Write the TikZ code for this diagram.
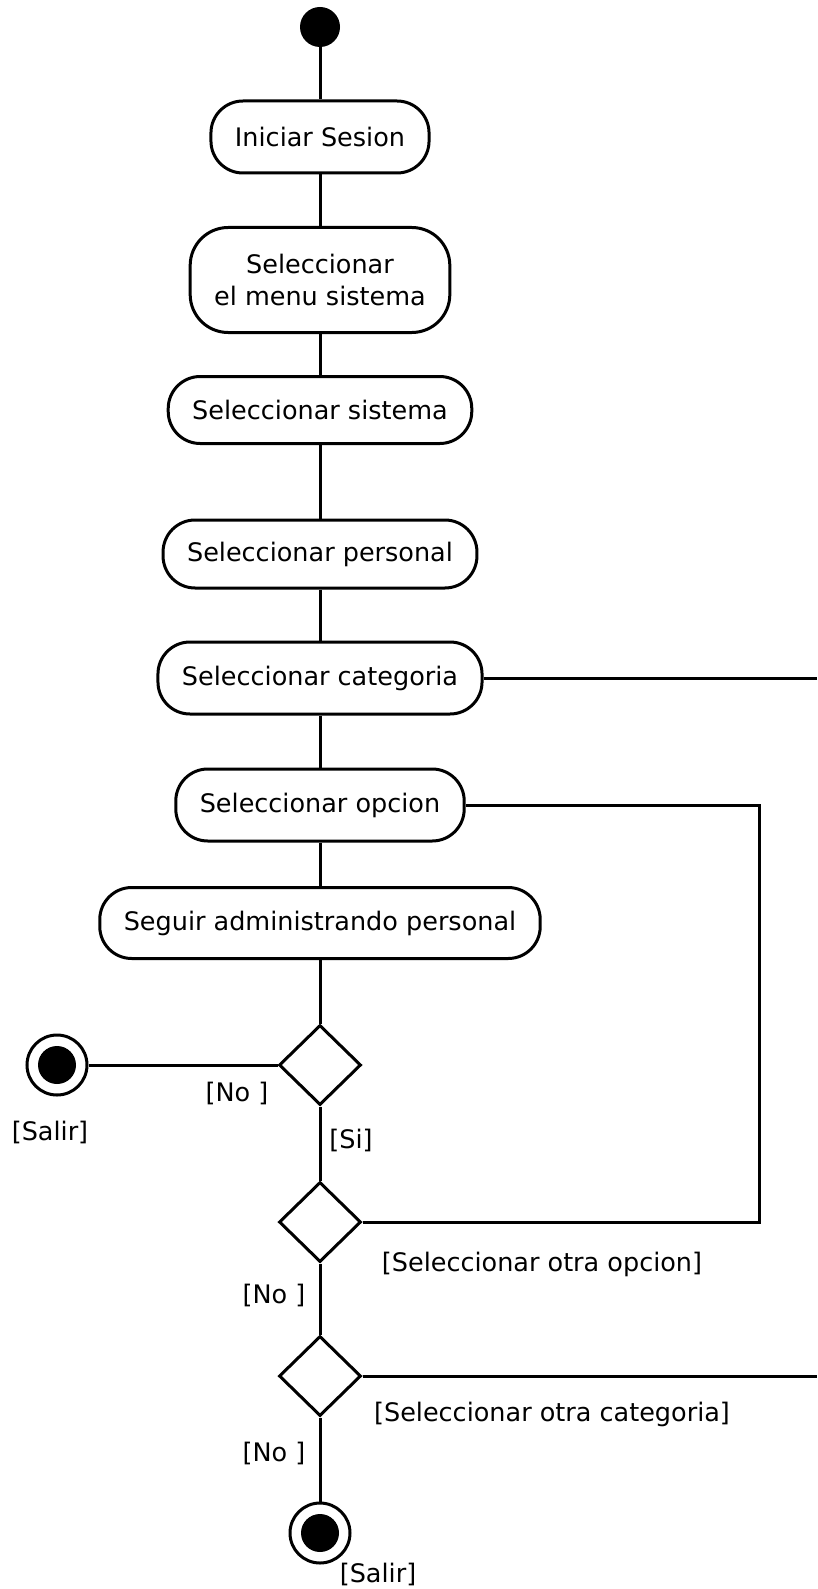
\documentclass[tikz,border=0pt]{standalone}
\usepackage{fontspec}
\setmainfont{DejaVu Sans}
\usetikzlibrary{positioning,shapes.geometric,calc}
\tikzset{
    every node/.style={font=\fontsize{25.5}{32}\selectfont},
    activity/.style={rectangle,rounded corners=32pt,draw,line width=3pt,minimum height=72pt,inner xsep=24pt,align=center},
    decision/.style={diamond,draw,line width=3pt,minimum width=82pt,minimum height=80pt,inner sep=0pt},
    startdot/.style={circle,fill,minimum size=40pt,inner sep=0pt},
    enddot/.style={circle,draw,line width=3pt,minimum size=60pt,inner sep=0pt,
        path picture={\fill (path picture bounding box.center) circle (19pt);}},
    guard/.style={inner sep=0pt},
    flow/.style={draw,line width=3pt}
}
\begin{document}
\begin{tikzpicture}[x=1pt,y=-1pt]
\useasboundingbox (0,0) rectangle (817,1589);
% main column
\node[startdot] (start) at (320,27) {};
\node[activity] (iniciar) at (320,137) {Iniciar Sesion};
\node[activity,minimum height=105pt,rounded corners=38pt] (menu) at (320,280) {Seleccionar\\el menu sistema};
\node[activity,minimum height=67pt] (sistema) at (320,410) {Seleccionar sistema};
\node[activity,minimum height=68pt] (personal) at (320,554) {Seleccionar personal};
\node[activity] (categoria) at (320,678) {Seleccionar categoria};
\node[activity] (opcion) at (320,805) {Seleccionar opcion};
\node[activity,minimum height=71pt] (seguir) at (320,923) {Seguir administrando personal};
\node[decision] (seguirdec) at (320,1065) {};
\node[decision] (opciondec) at (320,1222) {};
\node[decision] (categoriadec) at (320,1376) {};
\node[enddot] (salir) at (57,1065) {};
\node[enddot] (fin) at (320,1533) {};
% loop ends
\coordinate (opcionloop) at (759,0);
\coordinate (rightedge) at (817,0);
% guards
\node[guard] (nosalir) at (237,1093) {[No ]};
\node[guard] (salirtxt) at (50,1132) {[Salir]};
\node[guard] (si) at (351,1140) {[Si]};
\node[guard] (otraopcion) at (542,1264) {[Seleccionar otra opcion]};
\node[guard] (noopcion) at (274,1295) {[No ]};
\node[guard] (otracategoria) at (552,1414) {[Seleccionar otra categoria]};
\node[guard] (nocategoria) at (274,1453) {[No ]};
\node[guard] (fintxt) at (378,1574) {[Salir]};
% connectors
\draw[flow] (start) -- (iniciar) -- (menu) -- (sistema) -- (personal) -- (categoria)
    -- (opcion) -- (seguir) -- (seguirdec) -- (opciondec) -- (categoriadec) -- (fin);
\draw[flow] (seguirdec.west) -- (salir);
\draw[flow] (opcion.east) -- (opcion.east -| opcionloop) |- (opciondec.east);
\draw[flow] (categoria.east) -- (categoria.east -| rightedge);
\draw[flow] (categoriadec.east) -- (categoriadec.east -| rightedge);
\end{tikzpicture}
\end{document}
